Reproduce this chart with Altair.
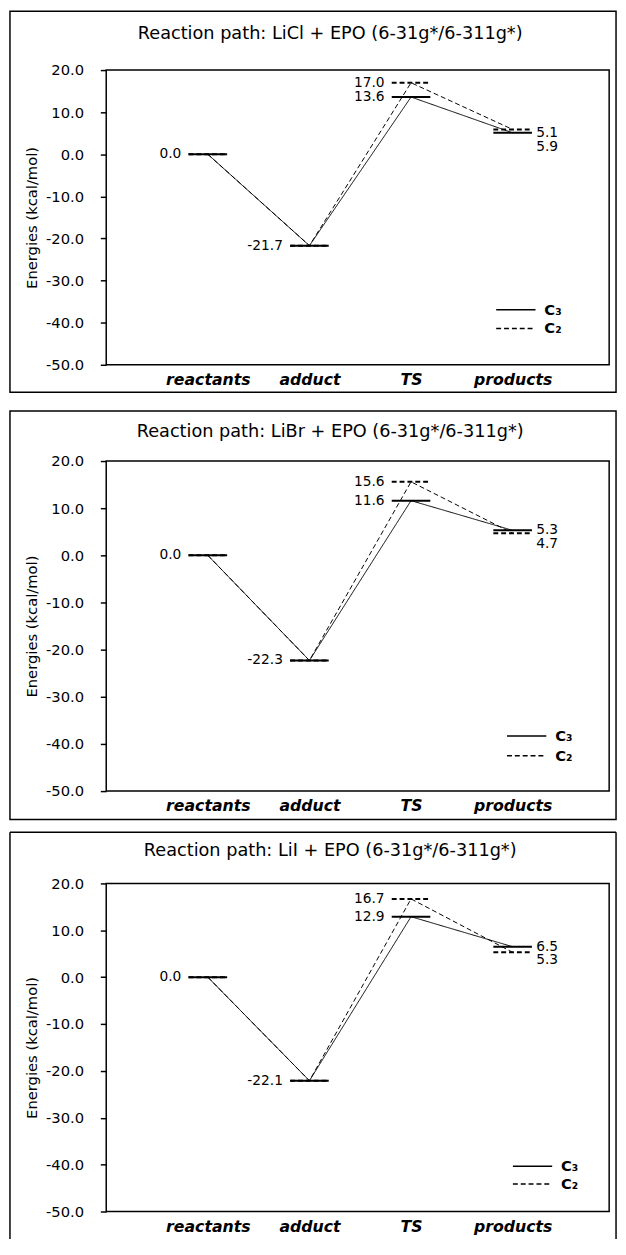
import altair as alt
import pandas as pd

# ---------------- data ----------------
stages = ["reactants", "adduct", "TS", "products"]
series_names = ["C₃", "C₂"]
titles = [
    "Reaction path: LiCl + EPO (6-31g*/6-311g*)",
    "Reaction path: LiBr + EPO (6-31g*/6-311g*)",
    "Reaction path: LiI + EPO (6-31g*/6-311g*)",
]
c3_licl = [0.0, -21.7, 13.6, 5.1]
c2_licl = [0.0, -21.7, 17.0, 5.9]
c3_libr = [0.0, -22.3, 11.6, 5.3]
c2_libr = [0.0, -22.3, 15.6, 4.7]
c3_lii = [0.0, -22.1, 12.9, 6.5]
c2_lii = [0.0, -22.1, 16.7, 5.3]
y_ticks = [20, 10, 0, -10, -20, -30, -40, -50]
y_title = "Energies (kcal/mol)"

# ---------------- style ----------------
FONT = "DejaVu Sans"
PLOT_W = 512
HALF = 0.19  # half width of an energy level (x units)
BOX_L, BOX_R = -98, PLOT_W + 7

xs = alt.Scale(domain=[0, 4.95], nice=False, zero=False)
ys = alt.Scale(domain=[-50, 20], nice=False, zero=False)
label_expr = "[" + ",".join(f"'{s}'" for s in stages) + "][datum.value - 1]"
dash_scale = alt.Scale(domain=series_names, range=[[1, 0], [5, 3]])

x_axis = alt.Axis(values=[1, 2, 3, 4], labelExpr=label_expr, title=None, grid=False,
                  domain=False, ticks=False, labelPadding=7, labelFont=FONT,
                  labelFontSize=16, labelFontWeight="bold", labelFontStyle="italic",
                  labelColor="black")
y_axis = alt.Axis(values=y_ticks,
                  labelExpr="replace(format(datum.value, '.1f'), '\u2212', '-')",
                  title=y_title, grid=False, domain=False,
                  ticks=True, tickSize=6, tickColor="black", tickWidth=1.5,
                  labelPadding=17, labelFont=FONT, labelFontSize=15, labelColor="black",
                  titleFont=FONT, titleFontSize=15, titleFontWeight="normal",
                  titleColor="black", titlePadding=6)


def make_panel(title, c3, c2, height, box_top, box_bottom, title_y, legend_x, legend_ys,
               closed=True):
    rows = []
    for name, vals in ((series_names[1], c2), (series_names[0], c3)):
        for i, v in enumerate(vals):
            rows.append({"series": name, "idx": i + 1, "energy": v})
    df = pd.DataFrame(rows)

    left_rows = [{"idx": i + 1, "energy": c3[i], "text": f"{c3[i]:.1f}"} for i in range(3)]
    left_rows.append({"idx": 3, "energy": c2[2], "text": f"{c2[2]:.1f}"})
    left_df = pd.DataFrame(left_rows)
    rt_df = pd.DataFrame([{"idx": 4, "energy": c3[3], "text": f"{c3[3]:.1f}"}])
    rb_df = pd.DataFrame([{"idx": 4, "energy": c3[3], "text": f"{c2[3]:.1f}"}])

    X = alt.X("idx:Q", scale=xs, axis=x_axis)
    Y = alt.Y("energy:Q", scale=ys, axis=y_axis)
    dash = alt.StrokeDash("series:N", scale=dash_scale, legend=None)

    lines = alt.Chart(df).mark_line(color="black", strokeWidth=1).encode(
        x=X, y=Y, strokeDash=dash, detail="series:N",
    )

    levels = alt.Chart(df).transform_calculate(
        xa=f"datum.idx - {HALF}", xb=f"datum.idx + {HALF}"
    ).mark_rule(color="black", strokeWidth=2).encode(
        x=alt.X("xa:Q", scale=xs, axis=x_axis),
        x2="xb:Q",
        y=Y,
        strokeDash=dash,
    )

    def labels(d, **kw):
        return alt.Chart(d).mark_text(font=FONT, fontSize=14, color="black",
                                      baseline="middle", **kw).encode(
            x=X, y=Y, text="text:N",
        )

    left = labels(left_df, align="right", dx=-27)
    rt = labels(rt_df, align="left", dx=24, dy=0)
    rb = labels(rb_df, align="left", dx=24, dy=14)

    key = []
    for name, ly in zip(series_names, legend_ys):
        d = pd.DataFrame([{"series": name}])
        key.append(alt.Chart(d).mark_rule(color="black", strokeWidth=1.5).encode(
            x=alt.value(legend_x), x2=alt.value(legend_x + 40), y=alt.value(ly),
            strokeDash=dash))
        key.append(alt.Chart(d).mark_text(align="left", baseline="middle", font=FONT,
                                          fontSize=15, fontWeight="bold",
                                          color="black").encode(
            x=alt.value(legend_x + 49), y=alt.value(ly), text="series:N"))

    one = alt.Data(values=[{"k": 0}])
    frame = []
    if closed:
        frame.append(alt.Chart(one).mark_rect(
            filled=False, stroke="black", strokeWidth=1.5
        ).encode(x=alt.value(BOX_L), x2=alt.value(BOX_R),
                 y=alt.value(box_top), y2=alt.value(box_bottom)))
    else:
        rule = alt.Chart(one).mark_rule(color="black", strokeWidth=1.5)
        frame.append(rule.encode(x=alt.value(BOX_L), x2=alt.value(BOX_R), y=alt.value(box_top)))
        frame.append(rule.encode(x=alt.value(BOX_L), y=alt.value(box_top), y2=alt.value(box_bottom)))
        frame.append(rule.encode(x=alt.value(BOX_R), y=alt.value(box_top), y2=alt.value(box_bottom)))

    head = alt.Chart(one).mark_text(
        font=FONT, fontSize=18, color="black", align="center", baseline="middle"
    ).encode(x=alt.value(228), y=alt.value(title_y), text=alt.value(title))

    return alt.layer(lines, levels, left, rt, rb, head, *key, *frame).properties(
        width=PLOT_W, height=height)


p1 = make_panel(titles[0], c3_licl, c2_licl, 300, -60, 328, -37, 397, [244, 263])
p2 = make_panel(titles[1], c3_libr, c2_libr, 336, -51, 365, -29, 408, [280, 300])
p3 = make_panel(titles[2], c3_lii, c2_lii, 334, -52, 362, -33, 414, [288, 306],
                closed=False)

top2 = alt.vconcat(p1, p2, spacing=15)

chart = alt.vconcat(top2, p3, spacing=9).properties(
    padding={"left": 0, "top": -10, "right": 0, "bottom": 0},
    background="white",
).configure_view(stroke="black", strokeWidth=1.5)

chart.save("out.html", embed_options={"renderer": "svg", "actions": False})
